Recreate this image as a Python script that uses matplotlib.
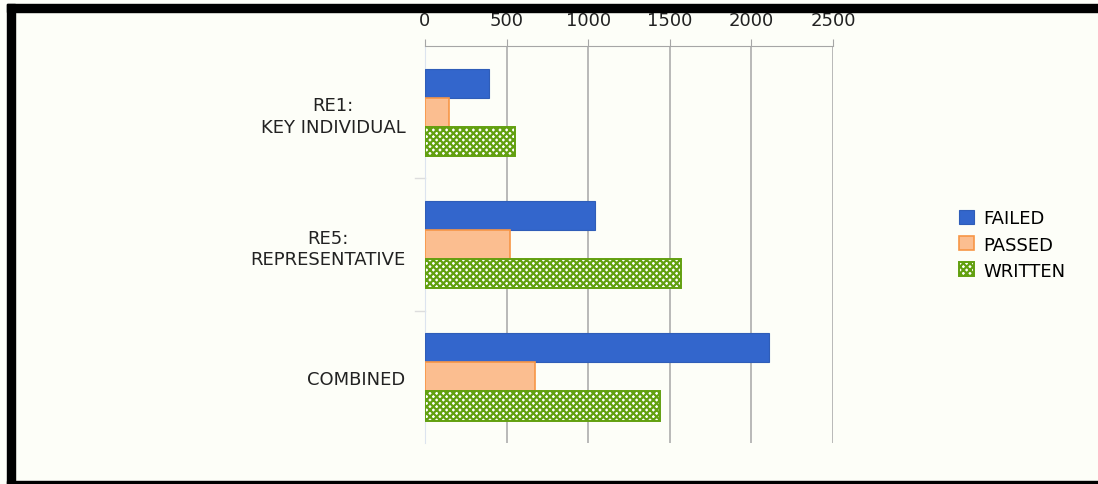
import numpy as np
import matplotlib.pyplot as plt
from matplotlib.patches import Rectangle

# Data
categories = ["RE1:\nKEY INDIVIDUAL", "RE5:\nREPRESENTATIVE", "COMBINED"]
failed = [390, 1040, 2110]
passed = [150, 520, 675]
written = [550, 1570, 1440]
xticks = [0, 500, 1000, 1500, 2000, 2500]

plt.rcParams["hatch.linewidth"] = 1.6

bg = "#FDFEF8"
fig = plt.figure(figsize=(10.98, 4.85), dpi=100, facecolor=bg)
ax = fig.add_axes([0.387, 0.0845, 0.3717, 0.8185])
ax.set_facecolor(bg)

y = np.arange(len(categories))
h = 0.22
ax.barh(y - h, failed, height=h, color="#3366CC", edgecolor="#2F5DB8",
        linewidth=0.8, label="FAILED", zorder=3)
ax.barh(y, passed, height=h, color="#FBBE90", edgecolor="#F79646",
        linewidth=1.2, label="PASSED", zorder=3)
ax.barh(y + h, written, height=h, color="white", edgecolor="#62A010",
        hatch="xxxxx", linewidth=1.4, label="WRITTEN", zorder=3)

ax.set_ylim(2.5, -0.5)
ax.set_xlim(0, 2500)
ax.set_xticks(xticks)
ax.xaxis.tick_top()
ax.tick_params(axis="x", length=5, color="#A6A6A6", labelsize=13,
               labelcolor="#222222", pad=7)
ax.set_yticks(y)
ax.set_yticklabels(categories, fontsize=13, color="#222222",
                   multialignment="center", linespacing=1.25)
ax.tick_params(axis="y", length=0, pad=14)
ax.grid(axis="x", color="#A6A6A6", linewidth=1.1, zorder=0)

for s in ["right", "bottom"]:
    ax.spines[s].set_visible(False)
ax.spines["top"].set_color("#A6A6A6")
ax.spines["left"].set_color("#DCE4EF")

# category separators on the left axis
for b in [0.5, 1.5]:
    ax.plot([-60, 0], [b, b], color="#DDDDDD", linewidth=1,
            clip_on=False, transform=ax.transData)

ax.legend(loc="center left", bbox_to_anchor=(1.27, 0.5), frameon=False,
          fontsize=13, handlelength=0.8, handleheight=0.8,
          handletextpad=0.5, labelspacing=0.45)

# black frame around the slide
fig.patches.append(Rectangle((0.0064, 0.0), 0.0073, 0.99, transform=fig.transFigure,
                             color="black", zorder=10))
fig.patches.append(Rectangle((0.0064, 0.973), 0.9936, 0.017, transform=fig.transFigure,
                             color="black", zorder=10))
fig.patches.append(Rectangle((0.0064, 0.0), 0.9936, 0.006, transform=fig.transFigure,
                             color="black", zorder=10))

fig.savefig("out.png", dpi=100, facecolor=bg)
